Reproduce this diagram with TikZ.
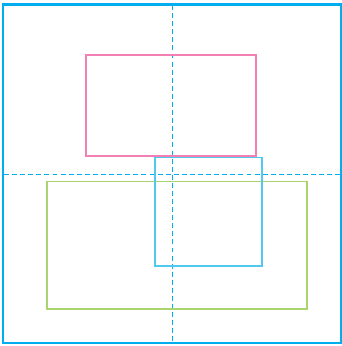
\documentclass[tikz,border=0pt]{standalone}
\usepackage{tikz}
\definecolor{frameblue}{RGB}{0,174,239}
\definecolor{lpink}{RGB}{243,128,180}
\definecolor{lblue}{RGB}{80,200,240}
\definecolor{lgreen}{RGB}{170,212,110}

\begin{document}
\begin{tikzpicture}[
		x=0.5mm, y=-0.5mm,
		frame/.style={draw=frameblue, line width=3pt},
		axis/.style={draw=frameblue, line width=1.4pt, dash pattern=on 7pt off 4.5pt},
		box/.style={line width=2.2pt}
	]
		\useasboundingbox (0,0) rectangle (342,346);
		\draw[frame] (3,4.5) rectangle (341,343);
		% axes
		\draw[axis] (172.5,5) -- (172.5,342);
		\draw[axis] (4,174) -- (340,174);
		% rectangles
		\draw[box, lpink] (86,55) rectangle (256,156);
		\draw[box, lgreen] (47,181.5) rectangle (307,309);
		\draw[box, lblue] (155,157.5) rectangle (262,266);
	\end{tikzpicture}
\end{document}
